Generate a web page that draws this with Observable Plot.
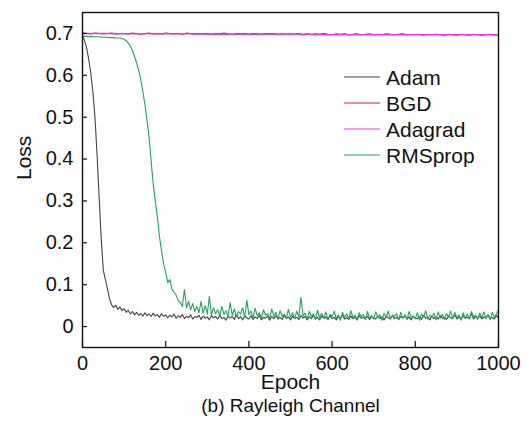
<!DOCTYPE html>
<html>
<head>
<meta charset="utf-8">
<script src="https://cdn.jsdelivr.net/npm/d3@7"></script>
<script src="https://cdn.jsdelivr.net/npm/@observablehq/plot@0.6"></script>
<style>
  html, body { margin: 0; padding: 0; background: #fff; }
  #chart { width: 529px; height: 439px; }
</style>
</head>
<body>
<div id="chart"></div>
<script>
// ---- data ----
const seriesNames = ["Adam", "BGD", "Adagrad", "RMSprop"];
const seriesColors = ["#444444", "#c8202a", "#e23ce6", "#22a45e"];
const xTicks = [0, 200, 400, 600, 800, 1000];
const yTicks = [0, 0.1, 0.2, 0.3, 0.4, 0.5, 0.6, 0.7];
const xLabel = "Epoch";
const yLabel = "Loss";
const caption = "(b) Rayleigh Channel";

// Adam & RMSprop sampled every 5 epochs (0..1000)
const epochs5 = d3.range(0, 1001, 5);
const adam = [
  0.695,0.683,0.665,0.638,0.605,0.560,0.500,0.410,0.310,0.210,
  0.135,0.112,0.090,0.066,0.052,0.046,0.051,0.041,0.047,0.038,
  0.043,0.034,0.039,0.030,0.036,0.028,0.034,0.027,0.031,0.025,
  0.033,0.026,0.030,0.024,0.032,0.025,0.029,0.022,0.031,0.024,
  0.028,
  0.021,0.027,0.023,0.030,0.020,0.026,0.022,0.029,0.019,0.025,
  0.021,0.028,0.018,0.024,0.022,0.027,0.017,0.025,0.020,0.023,
  0.016,0.026,0.021,0.024,0.018,0.027,0.019,0.022,0.015,0.025,
  0.020,0.024,0.017,0.028,0.019,0.023,0.016,0.025,0.021,0.018,
  0.026,0.017,0.023,0.019,0.027,0.016,0.022,0.020,0.025,0.015,
  0.024,0.019,0.026,0.018,0.022,0.017,0.027,0.020,0.023,0.016,
  0.025,0.019,0.022,0.017,0.026,0.020,0.024,0.016,0.023,0.019,
  0.027,0.018,0.022,0.016,0.025,0.020,0.023,0.017,0.026,0.019,
  0.022,0.016,0.024,0.020,0.027,0.018,0.021,0.017,0.025,0.019,
  0.023,0.016,0.026,0.020,0.022,0.018,0.025,0.017,0.024,0.020,
  0.018,0.026,0.019,0.023,0.016,0.025,0.021,0.018,0.027,0.019,
  0.022,0.017,0.024,0.020,0.026,0.018,0.023,0.016,0.025,0.020,
  0.019,0.024,0.017,0.027,0.020,0.022,0.016,0.025,0.019,0.023,
  0.018,0.026,0.020,0.022,0.017,0.025,0.021,0.019,0.028,0.018,
  0.023,0.017,0.026,0.020,0.022,0.019,0.031,0.018,0.024,0.020,
  0.025,0.018,0.023,0.021,0.027,0.019,0.022,0.018,0.026,0.021
];
const rmsprop = [
  0.693,0.693,0.693,0.692,0.693,0.692,0.692,0.692,0.692,0.691,
  0.691,0.691,0.691,0.690,0.690,0.690,0.689,0.689,0.689,0.688,
  0.686,0.682,0.677,0.670,0.660,0.645,0.630,0.612,0.590,0.562,
  0.530,0.493,0.453,0.395,0.340,0.300,0.262,0.215,0.180,0.150,
  0.128,0.105,0.112,0.090,0.082,0.075,0.062,0.058,0.048,0.088,
  0.045,0.060,0.040,0.055,0.036,0.048,0.033,0.060,0.032,0.050,
  0.030,0.072,0.028,0.045,0.031,0.040,0.026,0.048,0.029,0.038,
  0.025,0.057,0.027,0.042,0.024,0.036,0.030,0.045,0.022,0.063,
  0.028,0.037,0.021,0.044,0.026,0.033,0.020,0.040,0.027,0.031,
  0.019,0.042,0.025,0.034,0.018,0.038,0.024,0.030,0.020,0.041,
  0.023,0.033,0.019,0.037,0.022,0.070,0.025,0.032,0.018,0.036,
  0.024,0.030,0.017,0.039,0.022,0.031,0.020,0.035,0.016,0.029,
  0.023,0.037,0.019,0.028,0.015,0.034,0.022,0.030,0.018,0.038,
  0.021,0.027,0.016,0.033,0.024,0.029,0.017,0.036,0.020,0.026,
  0.018,0.035,0.022,0.028,0.015,0.032,0.021,0.037,0.019,0.027,
  0.024,0.031,0.016,0.034,0.020,0.028,0.017,0.036,0.022,0.025,
  0.019,0.033,0.015,0.030,0.023,0.038,0.018,0.027,0.021,0.032,
  0.016,0.035,0.020,0.029,0.017,0.031,0.022,0.037,0.019,0.034,
  0.021,0.028,0.015,0.033,0.020,0.030,0.018,0.036,0.023,0.027,
  0.017,0.032,0.021,0.035,0.019,0.029,0.016,0.034,0.022,0.030,
  0.040
];

// BGD & Adagrad sampled every 10 epochs (0..1000)
const epochs10 = d3.range(0, 1001, 10);
const bgd = [
  0.701,0.700,0.699,0.701,0.700,0.699,0.700,0.701,0.699,0.700,
  0.700,0.699,0.701,0.700,0.698,0.700,0.701,0.699,0.700,0.699,
  0.701,0.700,0.699,0.700,0.698,0.701,0.700,0.699,0.700,0.699,
  0.700,0.698,0.700,0.699,0.701,0.699,0.698,0.700,0.699,0.700,
  0.698,0.700,0.699,0.698,0.700,0.699,0.700,0.698,0.699,0.698,
  0.699,0.698,0.700,0.698,0.699,0.697,0.699,0.698,0.700,0.698,
  0.697,0.699,0.698,0.699,0.697,0.698,0.699,0.697,0.698,0.699,
  0.697,0.698,0.697,0.699,0.698,0.697,0.698,0.699,0.697,0.698,
  0.697,0.698,0.696,0.698,0.697,0.698,0.697,0.696,0.698,0.697,
  0.696,0.698,0.697,0.696,0.698,0.697,0.696,0.697,0.698,0.696,
  0.697
];
const adagrad = [
  0.700,0.700,0.700,0.700,0.700,0.700,0.700,0.699,0.700,0.699,
  0.699,0.699,0.699,0.699,0.699,0.699,0.699,0.699,0.699,0.699,
  0.699,0.699,0.699,0.699,0.699,0.699,0.699,0.698,0.699,0.698,
  0.698,0.698,0.698,0.698,0.698,0.698,0.698,0.698,0.698,0.698,
  0.698,0.698,0.698,0.698,0.698,0.698,0.698,0.698,0.698,0.698,
  0.698,0.698,0.698,0.697,0.698,0.698,0.697,0.698,0.697,0.697,
  0.697,0.697,0.697,0.697,0.697,0.697,0.697,0.697,0.697,0.697,
  0.697,0.697,0.697,0.697,0.697,0.697,0.697,0.697,0.697,0.697,
  0.697,0.697,0.697,0.697,0.697,0.697,0.697,0.697,0.697,0.697,
  0.697,0.697,0.697,0.697,0.697,0.697,0.697,0.697,0.697,0.697,
  0.697
];

// ---- build table ----
const seriesData = [
  {name: "Adam", x: epochs5, y: adam},
  {name: "BGD", x: epochs10, y: bgd},
  {name: "Adagrad", x: epochs10, y: adagrad},
  {name: "RMSprop", x: epochs5, y: rmsprop}
];
const rows = seriesData.flatMap(s => s.y.map((v, i) => ({series: s.name, epoch: s.x[i], loss: v})));

const W = 529, H = 439;
const mL = 82, mR = 31, mT = 12, mB = 92;
const plotW = W - mL - mR, plotH = H - mT - mB;
const font = "'Liberation Sans', Arial, Helvetica, sans-serif";

const chart = Plot.plot({
  width: W,
  height: H,
  marginLeft: mL,
  marginRight: mR,
  marginTop: mT,
  marginBottom: mB,
  style: {fontFamily: font, fontSize: "20px", color: "#111", background: "#fff", overflow: "visible"},
  x: {domain: [0, 1000], label: null},
  y: {domain: [-0.05, 0.75], label: null},
  color: {domain: seriesNames, range: seriesColors},
  marks: [
    ...seriesNames.map(n => Plot.lineY(rows.filter(r => r.series === n), {
      x: "epoch", y: "loss", stroke: "series",
      strokeWidth: n === "Adagrad" ? 1.4 : 1.1
    })),
    Plot.frame({stroke: "#111", strokeWidth: 1.4}),
    Plot.tickX(xTicks, {x: d => d, insetTop: plotH - 6, stroke: "#111", strokeWidth: 1.2}),
    Plot.tickY(yTicks, {y: d => d, insetRight: plotW - 5, stroke: "#111", strokeWidth: 1.2}),
    Plot.axisX({ticks: xTicks, tickSize: 0, tickPadding: 8, fontSize: 20, tickFormat: d => String(d)}),
    Plot.axisY({ticks: yTicks, tickSize: 0, tickPadding: 9, fontSize: 20, tickFormat: d => String(+d.toFixed(1))}),
    Plot.text([xLabel], {frameAnchor: "bottom", dy: 41, fontSize: 21, fill: "#111"}),
    Plot.text([caption], {frameAnchor: "bottom", dy: 64, fontSize: 19, fill: "#111"}),
    Plot.text([yLabel], {frameAnchor: "left", dx: -58, rotate: -90, fontSize: 21, fill: "#111"})
  ]
});

document.getElementById("chart").appendChild(chart);

// ---- legend (inside plot area, top right) ----
const svg = d3.select(chart);
const leg = svg.append("g").attr("font-family", font).attr("font-size", 21).attr("text-anchor", "start");
const legX = 344, legY = 77, legStep = 26;
seriesNames.forEach((n, i) => {
  const y = legY + i * legStep;
  leg.append("line").attr("x1", legX).attr("x2", legX + 36).attr("y1", y).attr("y2", y)
    .attr("stroke", seriesColors[i]).attr("stroke-width", 1.2);
  leg.append("text").attr("x", legX + 42).attr("y", y).attr("dy", "0.36em")
    .attr("text-anchor", "start").attr("fill", "#111").text(n);
});
</script>
</body>
</html>
